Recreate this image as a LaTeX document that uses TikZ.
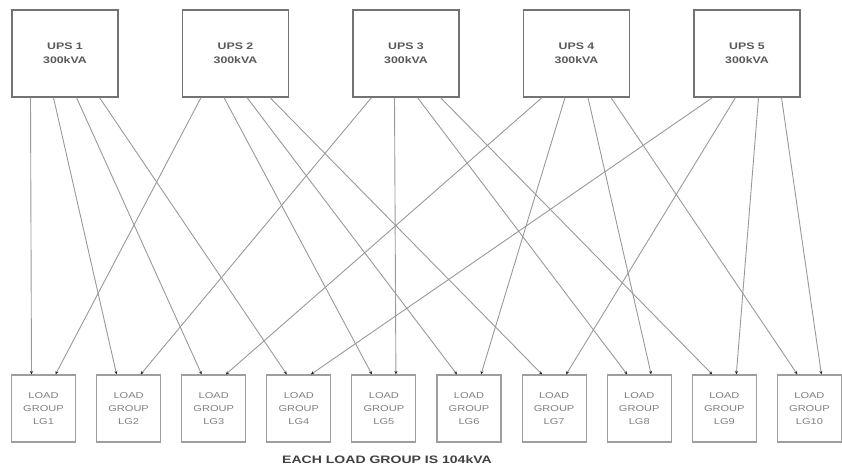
\documentclass[tikz,border=0pt]{standalone}
\usepackage{fontspec}
\setmainfont{Liberation Sans}
\newfontfamily\widefont[FakeStretch=1.3]{Liberation Sans}
\usetikzlibrary{arrows.meta}
\begin{document}
\begin{tikzpicture}[x=1pt,y=-1pt,
  upsbox/.style={draw=black!55, line width=1.2pt, fill=white, minimum width=106pt, minimum height=87pt, inner sep=0pt, align=center, font=\widefont\bfseries\fontsize{9.5}{14}\selectfont, text=black!65},
  lgbox/.style={draw=black!38, line width=1.1pt, fill=white, minimum width=64pt, minimum height=67pt, inner sep=0pt, align=center, font=\widefont\fontsize{8.5}{13}\selectfont, text=black!50},
  notetext/.style={font=\widefont\bfseries\fontsize{10.8}{13}\selectfont, text=black!75, inner sep=0pt},
  feed/.style={draw=black!40, line width=0.9pt, -{Stealth[length=3.5pt,width=3pt,black!85]}}]
\useasboundingbox (0,0) rectangle (842,471);
\foreach \i/\x in {1/65,2/235.5,3/406,4/576.5,5/747}
  \node[upsbox] (ups\i) at (\x,53.5) {UPS \i\\300kVA};
\foreach \i/\x in {1/43.5,2/128.6,3/213.7,4/298.8,5/383.9,6/469,7/554.1,8/639.2,9/724.3,10/809.4}
  \node[lgbox] (lg\i) at (\x,408.5) {LOAD\\GROUP\\LG\i};
\node[notetext] (note) at (387,460) {EACH LOAD GROUP IS 104kVA};
\foreach \u/\e/\l/\s in {1/1/1/1, 1/2/2/1, 1/3/3/1, 1/4/4/1,
                         2/1/1/2, 2/2/5/1, 2/3/6/1, 2/4/7/1,
                         3/1/2/2, 3/2/5/2, 3/3/8/1, 3/4/9/1,
                         4/1/3/2, 4/2/6/2, 4/3/8/2, 4/4/10/1,
                         5/1/4/2, 5/2/7/2, 5/3/9/2, 5/4/10/2}{
  \pgfmathsetmacro{\ex}{-57.5+23*\e}
  \pgfmathsetmacro{\sx}{-36+24*\s}
  \draw[feed] ([xshift=\ex pt]ups\u.south) -- ([xshift=\sx pt]lg\l.north);
}
\end{tikzpicture}
\end{document}
